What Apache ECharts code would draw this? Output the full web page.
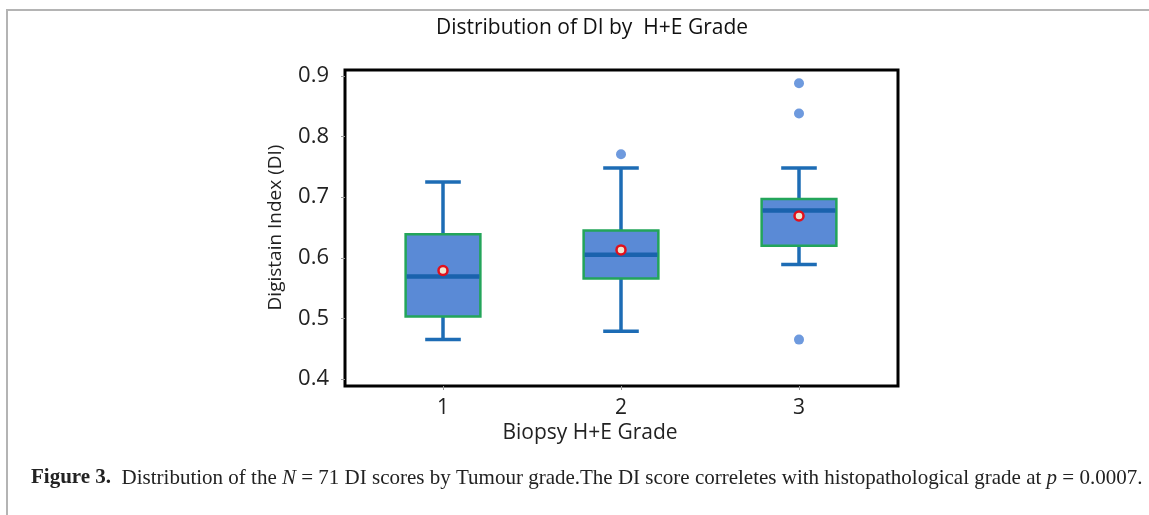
<!DOCTYPE html>
<html>
<head>
<meta charset="utf-8">
<script src="https://cdn.jsdelivr.net/npm/echarts@6/dist/echarts.min.js"></script>
<style>
  html, body { margin: 0; padding: 0; background: #fff; }
  #frame {
    position: absolute; left: 6px; top: 9px; width: 1160px; height: 520px;
    border-top: 2px solid #b4b4b4; border-left: 2px solid #b4b4b4;
  }
  #main { position: absolute; left: 0; top: 0; width: 1149px; height: 515px; }
</style>
</head>
<body>
<div id="frame"></div>
<div id="main"></div>
<script>
// 数据
var grades = ['1', '2', '3'];
var whiskerLow = [0.465, 0.479, 0.589];
var q1Values = [0.503, 0.566, 0.620];
var medianValues = [0.569, 0.605, 0.678];
var q3Values = [0.639, 0.645, 0.697];
var whiskerHigh = [0.725, 0.748, 0.748];
var meanValues = [0.579, 0.613, 0.669];
var outlierGrades = ['2', '3', '3', '3'];
var outlierValues = [0.771, 0.888, 0.838, 0.465];

var uiFont = 'Open Sans';
var boxColor = '#5a8ad6';
var boxBorder = '#23a55a';
var whiskerColor = '#1d6cb5';

var myChart = echarts.init(document.getElementById('main'));

var boxData = [];
for (var i = 0; i < grades.length; i++) {
    boxData.push([i, whiskerLow[i], q1Values[i], medianValues[i], q3Values[i], whiskerHigh[i]]);
}
var meanData = [];
for (var i = 0; i < grades.length; i++) {
    meanData.push([grades[i], meanValues[i]]);
}
var outlierData = [];
for (var i = 0; i < outlierGrades.length; i++) {
    outlierData.push([outlierGrades[i], outlierValues[i]]);
}

// 箱线: 须线端头只有箱宽的一半
function renderBox(params, api) {
    var idx = api.value(0);
    var band = api.size([1, 0])[0];
    var halfBox = band * 0.21;
    var halfCap = band * 0.1;
    var pLow = api.coord([idx, api.value(1)]);
    var pQ1 = api.coord([idx, api.value(2)]);
    var pMed = api.coord([idx, api.value(3)]);
    var pQ3 = api.coord([idx, api.value(4)]);
    var pHigh = api.coord([idx, api.value(5)]);
    var x = pMed[0];
    var lineStyle = { stroke: whiskerColor, lineWidth: 3.5 };
    return {
        type: 'group',
        children: [
            { type: 'line', shape: { x1: x, y1: pLow[1], x2: x, y2: pQ1[1] }, style: lineStyle },
            { type: 'line', shape: { x1: x, y1: pQ3[1], x2: x, y2: pHigh[1] }, style: lineStyle },
            { type: 'line', shape: { x1: x - halfCap, y1: pLow[1], x2: x + halfCap, y2: pLow[1] }, style: lineStyle },
            { type: 'line', shape: { x1: x - halfCap, y1: pHigh[1], x2: x + halfCap, y2: pHigh[1] }, style: lineStyle },
            {
                type: 'rect',
                shape: { x: x - halfBox, y: pQ3[1], width: halfBox * 2, height: pQ1[1] - pQ3[1] },
                style: { fill: boxColor, stroke: boxBorder, lineWidth: 2.5 }
            },
            {
                type: 'line',
                shape: { x1: x - halfBox + 1, y1: pMed[1], x2: x + halfBox - 1, y2: pMed[1] },
                style: { stroke: '#1a62ad', lineWidth: 4.5 }
            }
        ]
    };
}

var option = {
    animation: false,
    grid: [
        // 外框
        { left: 345, top: 70, right: 251, bottom: 129, show: true, borderColor: '#000', borderWidth: 3, backgroundColor: 'transparent' },
        // 数据区
        { left: 354, top: 76, right: 261, bottom: 136 }
    ],
    xAxis: [{
        gridIndex: 1,
        type: 'category',
        data: grades,
        offset: 7,
        axisLine: { show: false },
        axisTick: { show: true, alignWithLabel: true, length: 4, lineStyle: { color: '#999' } },
        axisLabel: { fontFamily: uiFont, fontSize: 21, color: '#222', margin: 12 },
        splitLine: { show: false }
    }],
    yAxis: [{
        gridIndex: 1,
        type: 'value',
        min: 0.4,
        max: 0.9,
        interval: 0.1,
        offset: 9,
        axisLine: { show: false },
        axisTick: { show: true, length: 4, lineStyle: { color: '#999' } },
        axisLabel: {
            fontFamily: uiFont, fontSize: 22, color: '#222', margin: 16,
            formatter: function (v) { return v.toFixed(1); }
        },
        splitLine: { show: false },
        name: 'Digistain Index (DI)',
        nameLocation: 'middle',
        nameRotate: 90,
        nameGap: 60,
        nameTextStyle: { fontFamily: uiFont, fontSize: 19, color: '#222' }
    }],
    series: [
        {
            type: 'custom',
            xAxisIndex: 0,
            yAxisIndex: 0,
            renderItem: renderBox,
            encode: { x: 0, y: [1, 2, 3, 4, 5] },
            data: boxData,
            z: 2
        },
        {
            type: 'scatter',
            data: outlierData,
            symbol: 'circle',
            symbolSize: 10,
            itemStyle: { color: '#6e9ade', opacity: 1 },
            z: 3
        },
        {
            type: 'scatter',
            data: meanData,
            symbol: 'circle',
            symbolSize: 9,
            itemStyle: { color: '#efe6cf', borderColor: '#e2101c', borderWidth: 2.5, opacity: 1 },
            z: 4
        }
    ],
    graphic: [
        {
            type: 'text', x: 592, y: 28,
            style: {
                text: 'Distribution of DI by  H+E Grade',
                font: '21px "Open Sans"', fill: '#111', align: 'center', verticalAlign: 'middle'
            }
        },
        {
            type: 'text', x: 590, y: 433,
            style: {
                text: 'Biopsy H+E Grade',
                font: '21px "Open Sans"', fill: '#222', align: 'center', verticalAlign: 'middle'
            }
        },
        {
            type: 'text', x: 31, y: 478,
            style: {
                text: '{b|Figure 3.}  Distribution of the {i|N} = 71 DI scores by Tumour grade.The DI score correletes with histopathological grade at {i|p} = 0.0007.',
                font: '21px "Liberation Serif"', fill: '#222', verticalAlign: 'middle',
                rich: {
                    b: { fontFamily: 'Liberation Serif', fontSize: 21, fontWeight: 'bold', fill: '#222' },
                    i: { fontFamily: 'Liberation Serif', fontSize: 21, fontStyle: 'italic', fill: '#222' }
                }
            }
        }
    ]
};

myChart.setOption(option);
</script>
</body>
</html>
